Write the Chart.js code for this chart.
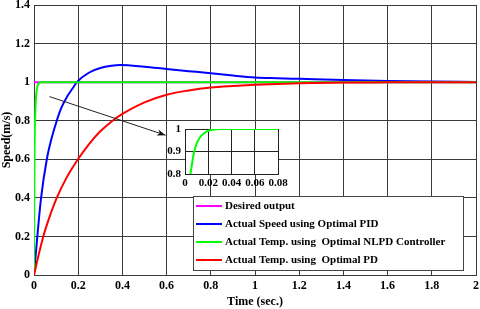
<!DOCTYPE html>
<html>
<head>
<meta charset="utf-8">
<script src="https://cdn.jsdelivr.net/npm/chart.js@4"></script>
<style>
  html, body { margin: 0; padding: 0; background: #fff; }
  #wrap { position: relative; width: 480px; height: 309px; }
  #main { position: absolute; left: 0; top: 0; }
  #inset { position: absolute; left: 148px; top: 120px; }
</style>
</head>
<body>
<div id="wrap">
  <canvas id="main" width="480" height="309"></canvas>
  <canvas id="inset" width="146" height="70"></canvas>
</div>
<script>
// Values
const labels = ['Desired output', 'Actual Speed using Optimal PID', 'Actual Temp. using  Optimal NLPD Controller', 'Actual Temp. using  Optimal PD'];
const colors = ['#ff00ff', '#0000ff', '#00ff00', '#ff0000'];

const desiredT = [0, 2];
const desiredY = [1, 1];

const pidT = [0, 0.015, 0.032, 0.058, 0.08, 0.103, 0.125, 0.15, 0.175, 0.194, 0.25, 0.3, 0.35, 0.39, 0.5, 0.6, 0.7, 0.8, 0.9, 1.0, 1.1, 1.2, 1.4, 1.6, 1.8, 2.0];
const pidY = [0, 0.2, 0.4, 0.6, 0.71, 0.8, 0.87, 0.925, 0.968, 1.0, 1.05, 1.073, 1.085, 1.089, 1.08, 1.068, 1.057, 1.046, 1.034, 1.024, 1.02, 1.017, 1.011, 1.006, 1.003, 1.001];

const nlpdT = [0, 0.001, 0.002, 0.003, 0.004, 0.005, 0.0075, 0.01, 0.0125, 0.015, 0.0175, 0.02, 0.025, 0.03, 2];
const nlpdY = [0, 0.3, 0.55, 0.7, 0.78, 0.81, 0.89, 0.935, 0.96, 0.975, 0.985, 0.992, 0.998, 1, 1];

const pdT = [0, 0.02, 0.042, 0.07, 0.103, 0.15, 0.199, 0.25, 0.3, 0.35, 0.4, 0.5, 0.6, 0.7, 0.8, 0.9, 1.0, 1.2, 1.4, 1.6, 1.8, 2.0];
const pdY = [0, 0.1, 0.2, 0.3, 0.4, 0.51, 0.6, 0.68, 0.745, 0.795, 0.835, 0.895, 0.935, 0.957, 0.972, 0.98, 0.986, 0.994, 0.998, 0.999, 1, 1];

const xTicks = [0, 0.2, 0.4, 0.6, 0.8, 1, 1.2, 1.4, 1.6, 1.8, 2];
const yTicks = [0, 0.2, 0.4, 0.6, 0.8, 1, 1.2, 1.4];
const insetXTicks = [0, 0.02, 0.04, 0.06, 0.08];
const insetYTicks = [0.8, 0.9, 1];

// arrow pointing at the zoomed part, in data units
const arrowFrom = [0.07, 0.925];
const arrowTo = [0.595, 0.725];

const serif = '"Liberation Serif", "Times New Roman", serif';
const gridColor = '#3a3a3a';

function pts(t, y) {
    return t.map((v, i) => ({x: v, y: y[i]}));
}

function makeSet(i, t, y, order) {
    return {
        label: labels[i], data: pts(t, y),
        borderColor: colors[i], backgroundColor: colors[i],
        borderWidth: 2, pointRadius: 0, showLine: true,
        cubicInterpolationMode: 'monotone', order: order
    };
}

function setTicks(list) {
    return function(scale) { scale.ticks = list.map(v => ({value: v})); };
}

// fix the axis size and drop the automatic label overhang padding
function fitX(h) {
    return function(s) { s.height = h; s.paddingLeft = 0; s.paddingRight = 0; };
}
function fitY(w) {
    return function(s) { s.width = w; s.paddingTop = 0; s.paddingBottom = 0; };
}

const fmt = (v) => String(v);

// Legend box + arrow drawn inside the plot
const overlayPlugin = {
    id: 'overlay',
    afterDraw: (chart) => {
        const ctx = chart.ctx;
        const xs = chart.scales.x, ys = chart.scales.y;
        const area = chart.chartArea;
        ctx.save();

        // arrow
        const x1 = xs.getPixelForValue(arrowFrom[0]), y1 = ys.getPixelForValue(arrowFrom[1]);
        const x2 = xs.getPixelForValue(arrowTo[0]), y2 = ys.getPixelForValue(arrowTo[1]);
        ctx.strokeStyle = '#222';
        ctx.fillStyle = '#111';
        ctx.lineWidth = 1;
        ctx.beginPath();
        ctx.moveTo(x1, y1);
        ctx.lineTo(x2, y2);
        ctx.stroke();
        const ang = Math.atan2(y2 - y1, x2 - x1);
        ctx.beginPath();
        ctx.moveTo(x2, y2);
        ctx.lineTo(x2 - 9 * Math.cos(ang - 0.35), y2 - 9 * Math.sin(ang - 0.35));
        ctx.lineTo(x2 - 6 * Math.cos(ang), y2 - 6 * Math.sin(ang));
        ctx.lineTo(x2 - 9 * Math.cos(ang + 0.35), y2 - 9 * Math.sin(ang + 0.35));
        ctx.closePath();
        ctx.fill();

        // legend
        const boxW = 270, boxH = 74;
        const bx = area.right - 13 - boxW, by = area.bottom - 5 - boxH;
        ctx.fillStyle = '#fff';
        ctx.fillRect(bx, by, boxW, boxH);
        ctx.strokeStyle = '#444';
        ctx.strokeRect(bx + 0.5, by + 0.5, boxW, boxH);
        ctx.font = 'bold 11px ' + serif;
        ctx.textBaseline = 'middle';
        labels.forEach((lab, i) => {
            const ry = by + 10 + i * 18;
            ctx.strokeStyle = colors[i];
            ctx.lineWidth = 2;
            ctx.beginPath();
            ctx.moveTo(bx + 3, ry);
            ctx.lineTo(bx + 29, ry);
            ctx.stroke();
            ctx.fillStyle = '#000';
            ctx.fillText(lab, bx + 32, ry);
        });
        ctx.restore();
    }
};

new Chart(document.getElementById('main'), {
    type: 'scatter',
    data: {
        datasets: [
            makeSet(0, desiredT, desiredY, 3),
            makeSet(1, pidT, pidY, 2),
            makeSet(2, nlpdT, nlpdY, 1),
            makeSet(3, pdT, pdY, 0)
        ]
    },
    options: {
        responsive: false,
        animation: false,
        events: [],
        layout: {padding: {top: 5, right: 4, left: 0, bottom: 0}},
        plugins: {legend: {display: false}, tooltip: {enabled: false}},
        scales: {
            x: {
                type: 'linear', min: 0, max: 2,
                afterBuildTicks: setTicks(xTicks),
                afterFit: fitX(34),
                grid: {color: gridColor, lineWidth: 1, drawTicks: false},
                border: {color: gridColor},
                ticks: {color: '#000', padding: 4, maxRotation: 0, autoSkip: false, callback: fmt,
                        font: {family: serif, size: 12, weight: 'bold'}},
                title: {display: true, text: 'Time (sec.)', color: '#000', padding: {top: 0, bottom: 0}, font: {family: serif, size: 12, weight: 'bold'}}
            },
            y: {
                type: 'linear', min: 0, max: 1.4,
                afterBuildTicks: setTicks(yTicks),
                afterFit: fitY(34),
                grid: {color: gridColor, lineWidth: 1, drawTicks: false},
                border: {color: gridColor},
                ticks: {color: '#000', padding: 4, autoSkip: false, callback: fmt,
                        font: {family: serif, size: 12, weight: 'bold'}},
                title: {display: true, text: 'Speed(m/s)', color: '#000', padding: {top: 0, bottom: 0}, font: {family: serif, size: 12, weight: 'bold'}}
            }
        }
    },
    plugins: [overlayPlugin]
});

// zoomed view of the NLPD response
const whiteArea = {
    id: 'whiteArea',
    beforeDraw: (chart) => {
        const a = chart.chartArea;
        chart.ctx.save();
        chart.ctx.fillStyle = '#fff';
        chart.ctx.fillRect(a.left, a.top, a.right - a.left, a.bottom - a.top);
        chart.ctx.restore();
    }
};

new Chart(document.getElementById('inset'), {
    type: 'scatter',
    data: {datasets: [makeSet(2, nlpdT, nlpdY, 0)]},
    options: {
        responsive: false,
        animation: false,
        events: [],
        layout: {padding: {top: 9, right: 16, left: 0, bottom: 0}},
        plugins: {legend: {display: false}, tooltip: {enabled: false}},
        scales: {
            x: {
                type: 'linear', min: 0, max: 0.08,
                afterBuildTicks: setTicks(insetXTicks),
                afterFit: fitX(16),
                grid: {color: '#222', lineWidth: 1, drawTicks: false},
                border: {color: '#222'},
                ticks: {color: '#000', padding: 3, maxRotation: 0, autoSkip: false, callback: fmt,
                        font: {family: serif, size: 11, weight: 'bold'}}
            },
            y: {
                type: 'linear', min: 0.8, max: 1,
                afterBuildTicks: setTicks(insetYTicks),
                afterFit: fitY(37),
                grid: {color: '#222', lineWidth: 1, drawTicks: false},
                border: {color: '#222'},
                ticks: {color: '#000', padding: 4, autoSkip: false, callback: fmt,
                        font: {family: serif, size: 11, weight: 'bold'}}
            }
        }
    },
    plugins: [whiteArea]
});
</script>
</body>
</html>
